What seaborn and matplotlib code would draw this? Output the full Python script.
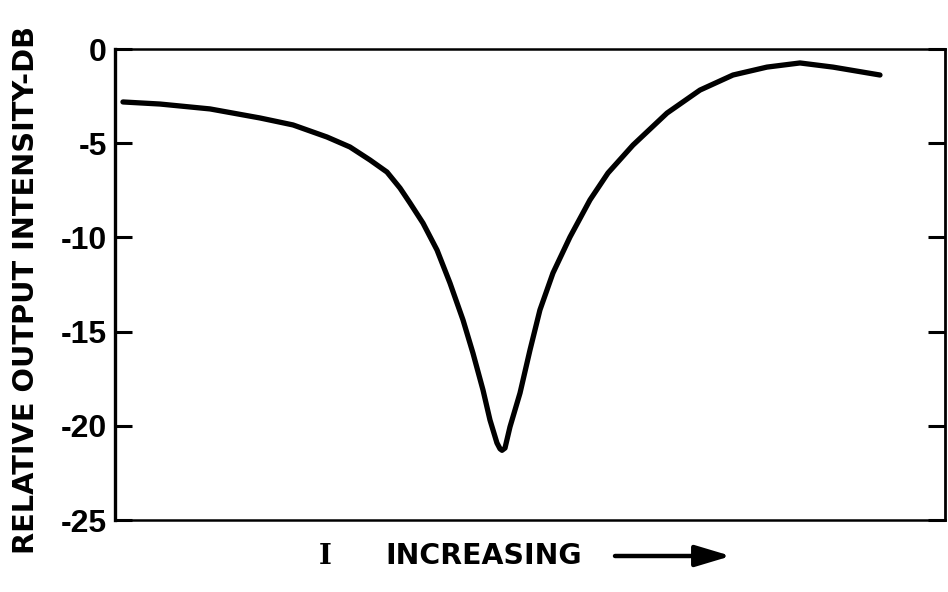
import matplotlib
matplotlib.use("Agg")
import matplotlib.pyplot as plt
import matplotlib.patches as mpatches
import seaborn as sns
import pandas as pd

# Relative output intensity (dB) versus drive current I (arbitrary units)
current = [0.96, 5.42, 11.45, 17.47, 21.45, 25.54, 28.31, 30.72, 32.77, 34.34,
           35.54, 37.11, 38.80, 40.36, 41.93, 43.13, 44.34, 45.18, 46.02, 46.39,
           46.63, 46.99, 47.59, 48.80, 50.00, 51.20, 52.77, 54.82, 57.23, 59.40,
           62.41, 66.51, 70.48, 74.46, 78.55, 82.53, 86.51, 92.17]
intensity_db = [-2.81, -2.92, -3.18, -3.66, -4.03, -4.67, -5.20, -5.89, -6.53,
                -7.38, -8.17, -9.24, -10.67, -12.42, -14.38, -16.14, -18.10,
                -19.69, -20.91, -21.22, -21.30, -21.18, -20.06, -18.26, -15.98,
                -13.85, -11.89, -9.98, -8.01, -6.58, -5.10, -3.40, -2.18, -1.38,
                -0.96, -0.74, -0.96, -1.38]
y_ticks = [0, -5, -10, -15, -20, -25]
y_tick_labels = ["0", "-5", "-10", "-15", "-20", "-25"]

sns.set_style("white")
plt.rcParams["font.family"] = ["DejaVu Sans"]
plt.rcParams["font.weight"] = "bold"
for key in ("text.color", "axes.labelcolor", "xtick.color", "ytick.color",
            "axes.edgecolor"):
    plt.rcParams[key] = "black"

df = pd.DataFrame({"I": current, "dB": intensity_db})

fig = plt.figure(figsize=(9.48, 5.92), dpi=100)
ax = fig.add_axes([0.1213, 0.1216, 0.9968 - 0.1213, 0.9172 - 0.1216])

sns.lineplot(data=df, x="I", y="dB", ax=ax, color="black", linewidth=3.8,
             sort=False, estimator=None)
for line in ax.get_lines():
    line.set_solid_joinstyle("round")
    line.set_solid_capstyle("round")

ax.set_xlim(0, 100)
ax.set_ylim(-25, 0)
ax.set_xticks([])
ax.set_yticks(y_ticks)
ax.set_yticklabels(y_tick_labels, fontsize=23, fontweight="bold",
                   family="Liberation Sans")
ax.tick_params(axis="y", direction="in", length=12, width=2.2, left=True,
               right=True, labelleft=True, labelright=False, pad=6)

for side, lw in {"left": 2.4, "right": 2.0, "top": 1.8, "bottom": 1.8}.items():
    ax.spines[side].set_visible(True)
    ax.spines[side].set_color("black")
    ax.spines[side].set_linewidth(lw)

ax.set_xlabel("")
ax.set_ylabel("RELATIVE OUTPUT INTENSITY-DB", fontsize=20.8, fontweight="bold")
ax.yaxis.set_label_coords(-0.0904, 0.488)

# Axis caption with a direction arrow
fig.text(325 / 948, 1 - 556 / 592, "I", fontsize=20, fontweight="bold",
         family="DejaVu Serif", ha="center", va="center")
fig.text(385 / 948, 1 - 556 / 592, "INCREASING", fontsize=20.4,
         fontweight="bold", ha="left", va="center")
fig.add_artist(mpatches.FancyArrowPatch(
    (615 / 948, 1 - 556 / 592), (731 / 948, 1 - 556 / 592),
    transform=fig.transFigure, arrowstyle="-|>,head_length=1.2,head_width=0.36",
    mutation_scale=18, color="black", linewidth=3.2, shrinkA=0, shrinkB=0))

fig.savefig("out.png", dpi=100, facecolor="white")
